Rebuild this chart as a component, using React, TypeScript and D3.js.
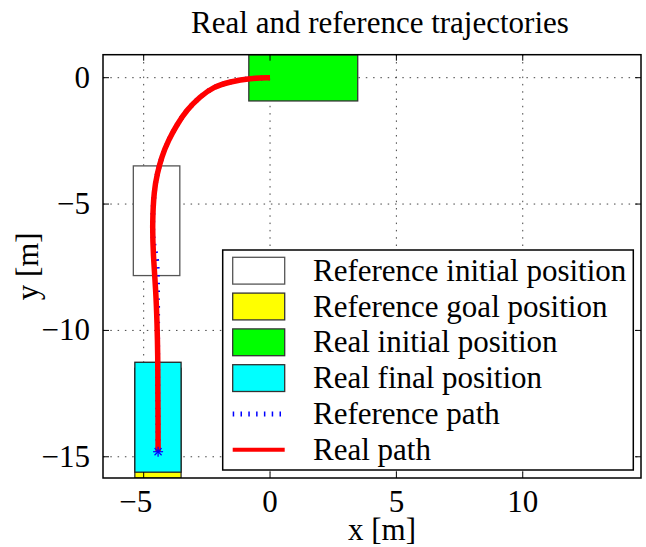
import React from 'react';
import * as d3 from 'd3';

// Trajectory plot: reference vs real vehicle path, with footprints.

const WIDTH = 646;
const HEIGHT = 547;
const PLOT = { left: 103, right: 641, top: 54.7, bottom: 478 };
const FONT = '"Liberation Serif", "Times New Roman", serif';
const FS = 31;

const X_DOMAIN = [-6.61, 14.68];
const Y_DOMAIN = [-15.84, 0.91];
const X_TICKS = [-5, 0, 5, 10];
const Y_TICKS = [0, -5, -10, -15];

// footprints [x0, x1, y0, y1] in metres
const REF_INITIAL = [-5.41, -3.57, -7.83, -3.49];
const REF_GOAL = [-5.35, -3.52, -15.84, -11.5];
const REAL_INITIAL = [-0.84, 3.47, -0.92, 0.91];
const REAL_FINAL = [-5.35, -3.52, -15.61, -11.26];

const REAL_PATH_X = [0, -0.79, -1.58, -2.24, -2.77, -3.3, -3.69, -4.02, -4.29, -4.46, -4.59, -4.66, -4.62, -4.52, -4.47, -4.44, -4.44, -4.43, -4.43];
const REAL_PATH_Y = [0, -0.02, -0.16, -0.36, -0.75, -1.28, -1.87, -2.47, -3.13, -3.78, -4.45, -5.76, -7.08, -8.4, -9.72, -11.04, -12.36, -13.68, -14.8];

const REF_PATH_X = [0, -0.79, -1.58, -2.24, -2.77, -3.3, -3.69, -4.02, -4.29, -4.46, -4.59, -4.66, -4.63, -4.46, -4.45, -4.45, -4.44, -4.43];
const REF_PATH_Y = [0, -0.02, -0.16, -0.36, -0.75, -1.28, -1.87, -2.47, -3.13, -3.78, -4.45, -5.76, -6.6, -7.1, -8.5, -11.0, -13.0, -14.8];

const LEGEND_LABELS = [
  'Reference initial position',
  'Reference goal position',
  'Real initial position',
  'Real final position',
  'Reference path',
  'Real path',
];

const fmt = (v: number) => (v < 0 ? `\u2212${Math.abs(v)}` : `${v}`);

export default function App() {
  const x = d3.scaleLinear().domain(X_DOMAIN).range([PLOT.left, PLOT.right]);
  const y = d3.scaleLinear().domain(Y_DOMAIN).range([PLOT.bottom, PLOT.top]);

  const line = d3
    .line<[number, number]>()
    .x((d) => x(d[0]))
    .y((d) => y(d[1]))
    .curve(d3.curveBasis);

  const realPts = REAL_PATH_X.map((v, i) => [v, REAL_PATH_Y[i]] as [number, number]);
  const refPts = REF_PATH_X.map((v, i) => [v, REF_PATH_Y[i]] as [number, number]);
  const end = realPts[realPts.length - 1];

  const rect = (b: number[], fill: string, stroke: string) => (
    <rect
      x={x(b[0])}
      y={y(b[3])}
      width={x(b[1]) - x(b[0])}
      height={y(b[2]) - y(b[3])}
      fill={fill}
      stroke={stroke}
      strokeWidth={1.3}
    />
  );

  const tick = 6;
  const legend = { x: 222.7, y: 250, w: 410.6, h: 220, row: 35.8, first: 270.7 };

  return (
    <svg
      width={WIDTH}
      height={HEIGHT}
      style={{ position: 'absolute', left: 0, top: 0, background: '#fff' }}
      fontFamily={FONT}
    >
      <defs>
        <clipPath id="plot-clip">
          <rect x={PLOT.left} y={PLOT.top} width={PLOT.right - PLOT.left} height={PLOT.bottom - PLOT.top} />
        </clipPath>
      </defs>

      {/* dotted grid */}
      <g stroke="#444" strokeWidth={1} strokeDasharray="1.5,5.8">
        {X_TICKS.map((t) => (
          <line key={`gx${t}`} x1={x(t)} x2={x(t)} y1={PLOT.top} y2={PLOT.bottom} />
        ))}
        {Y_TICKS.map((t) => (
          <line key={`gy${t}`} x1={PLOT.left} x2={PLOT.right} y1={y(t)} y2={y(t)} />
        ))}
      </g>

      <g clipPath="url(#plot-clip)">
        {rect(REF_INITIAL, '#ffffff', '#555')}
        {rect(REF_GOAL, '#ffff00', '#333')}
        {rect(REAL_FINAL, '#00ffff', '#222')}
        {rect(REAL_INITIAL, '#00ff00', '#333')}

        <path d={line(refPts) ?? ''} fill="none" stroke="#0000ff" strokeWidth={5} strokeDasharray="1.5,6.3" />
        <path d={line(realPts) ?? ''} fill="none" stroke="#ff0000" strokeWidth={5.5} />

        <g stroke="#0000ff" strokeWidth={1.2} transform={`translate(${x(end[0])},${y(end[1])})`}>
          {[0, 45, 90, 135].map((a) => (
            <line key={a} x1={-5} x2={5} y1={0} y2={0} transform={`rotate(${a})`} />
          ))}
        </g>
      </g>

      {/* axes box + inward ticks */}
      <rect
        x={PLOT.left}
        y={PLOT.top}
        width={PLOT.right - PLOT.left}
        height={PLOT.bottom - PLOT.top}
        fill="none"
        stroke="#000"
        strokeWidth={1.5}
      />
      <g stroke="#000" strokeWidth={1}>
        {X_TICKS.map((t) => (
          <g key={`tx${t}`}>
            <line x1={x(t)} x2={x(t)} y1={PLOT.bottom} y2={PLOT.bottom - tick} />
            <line x1={x(t)} x2={x(t)} y1={PLOT.top} y2={PLOT.top + tick} />
          </g>
        ))}
        {Y_TICKS.map((t) => (
          <g key={`ty${t}`}>
            <line x1={PLOT.left} x2={PLOT.left + tick} y1={y(t)} y2={y(t)} />
            <line x1={PLOT.right} x2={PLOT.right - tick} y1={y(t)} y2={y(t)} />
          </g>
        ))}
      </g>

      {/* tick labels */}
      <g fontSize={FS} fill="#000">
        {X_TICKS.map((t) => (
          <text key={`lx${t}`} x={x(t) + (t < 0 ? -8 : 0)} y={512} textAnchor="middle">
            {fmt(t)}
          </text>
        ))}
        {Y_TICKS.map((t) => (
          <text key={`ly${t}`} x={90} y={y(t) + 10} textAnchor="end">
            {fmt(t)}
          </text>
        ))}
      </g>

      <text x={380} y={33} fontSize={FS} textAnchor="middle">
        Real and reference trajectories
      </text>
      <text x={382} y={540} fontSize={FS} textAnchor="middle">
        x [m]
      </text>
      <text transform={`translate(38,${(PLOT.top + PLOT.bottom) / 2}) rotate(-90)`} fontSize={FS} textAnchor="middle">
        y [m]
      </text>

      {/* legend */}
      <g>
        <rect x={legend.x} y={legend.y} width={legend.w} height={legend.h} fill="#fff" stroke="#000" strokeWidth={1.5} />
        {LEGEND_LABELS.map((label, i) => {
          const cy = legend.first + i * legend.row;
          const sx = 232.7;
          const sw = 52;
          let swatch: React.ReactNode = null;
          if (i < 4) {
            const fills = ['#ffffff', '#ffff00', '#00ff00', '#00ffff'];
            const strokes = ['#555', '#333', '#333', '#333'];
            swatch = (
              <rect x={sx} y={cy - 13.4} width={sw} height={26.8} fill={fills[i]} stroke={strokes[i]} strokeWidth={1.3} />
            );
          } else if (i === 4) {
            swatch = (
              <line x1={sx} x2={sx + sw} y1={cy} y2={cy} stroke="#0000ff" strokeWidth={5} strokeDasharray="1.5,6.3" />
            );
          } else {
            swatch = <line x1={sx} x2={sx + sw} y1={cy} y2={cy} stroke="#ff0000" strokeWidth={4} />;
          }
          return (
            <g key={label}>
              {swatch}
              <text x={313} y={cy + 10} fontSize={FS}>
                {label}
              </text>
            </g>
          );
        })}
      </g>
    </svg>
  );
}
